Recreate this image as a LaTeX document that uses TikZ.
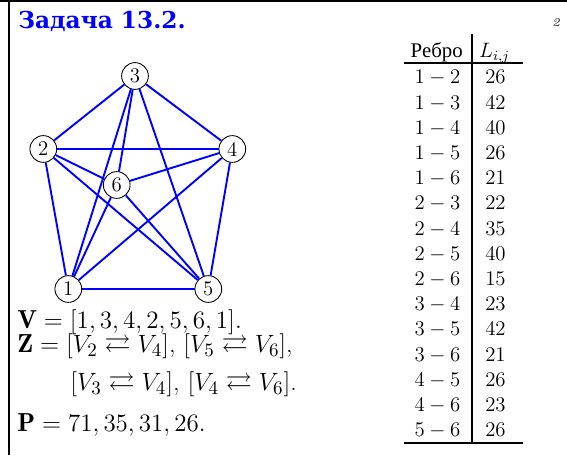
\documentclass[tikz,border=0pt]{standalone}
\usepackage{amsmath,amssymb}
\usepackage{fontspec}
\newfontfamily\titlefont{DejaVu Serif}
\newfontfamily\cyrfont{Liberation Serif}
\usepackage{tikz}
\definecolor{edgec}{HTML}{0000FF}
\tikzset{
  vert/.style={circle, draw=black, fill=white, line width=0.5pt, minimum size=15.4pt, inner sep=0pt, font=\large},
  edge/.style={draw=edgec, line width=1.1pt},
  cell/.style={anchor=base, font=\large, inner sep=0pt},
  rule/.style={line width=1.1pt},
  formula/.style={anchor=base west, font=\fontsize{15}{18}\selectfont, inner sep=0pt},
}
\def\colE{437.5}
\def\colL{495.5}
\def\rowA{83.9}
\def\dy{25.2}

\begin{document}
\begin{tikzpicture}[x=0.576pt, y=-0.576pt]
  \useasboundingbox (0,0) rectangle (567,455);
  % frame
  \draw[line width=0.9pt] (0,0.8) -- (567,0.8);
  \draw[line width=1.15pt] (9,0) -- (9,455);
  \node[anchor=base west, inner sep=0pt, text=edgec, font=\titlefont\bfseries\fontsize{13.4}{16}\selectfont] (title) at (18,28.3) {Задача 13.2.};
  \node[font=\scriptsize\itshape, inner sep=0pt] (pg) at (556,22.5) {2};
  % graph
  \node[vert] (v3) at (135,76) {3};
  \node[vert] (v2) at (43.3,149) {2};
  \node[vert] (v4) at (232.3,149) {4};
  \node[vert] (v6) at (116.7,185) {6};
  \node[vert] (v1) at (68.3,289) {1};
  \node[vert] (v5) at (208.3,289) {5};
  \foreach \a/\b in {1/2,1/3,1/4,1/5,1/6,2/3,2/4,2/5,2/6,3/4,3/5,3/6,4/5,4/6,5/6}
    \draw[edge] (v\a) -- (v\b);
  % table
  \node[cell] (hE) at (436.7,57.3) {\cyrfont Ребро};
  \node[cell] (hL) at (494.5,57.3) {$L_{i,j}$};
  \draw[rule] (404,63.3) -- (522.5,63.3);
  \draw[rule] (404,443.3) -- (522.5,443.3);
  \draw[rule] (471.7,34) -- (471.7,443.3);
  \foreach \a/\b/\w [count=\k from 0] in {1/2/26,1/3/42,1/4/40,1/5/26,1/6/21,2/3/22,2/4/35,2/5/40,2/6/15,3/4/23,3/5/42,3/6/21,4/5/26,4/6/23,5/6/26} {
    \node[cell] (e\k) at (\colE,\rowA+\k*\dy) {$\a-\b$};
    \node[cell] (w\k) at (\colL,\rowA+\k*\dy) {$\w$};
  }
  % answers
  \node[formula] (fv) at (17,328) {$\mathbf{V}=[1,3,4,2,5,6,1].$};
  \node[formula] (fz) at (17,352.5) {$\mathbf{Z}=[V_2\rightleftarrows V_4]$, $[V_5\rightleftarrows V_6]$,};
  \node[formula] (fz2) at (70,390.7) {$[V_3\rightleftarrows V_4]$, $[V_4\rightleftarrows V_6]$.};
  \node[formula] (fp) at (17,431) {$\mathbf{P}=71,35,31,26.$};
\end{tikzpicture}
\end{document}
